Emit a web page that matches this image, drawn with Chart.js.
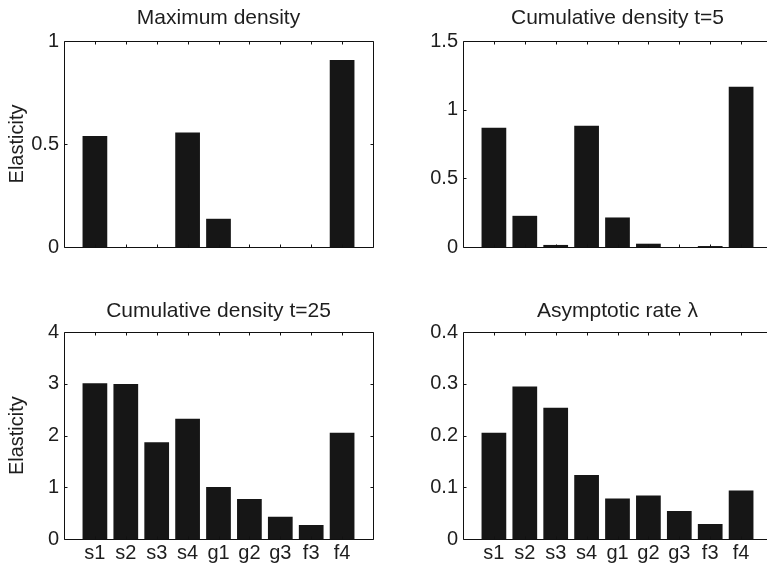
<!DOCTYPE html>
<html>
<head>
<meta charset="utf-8">
<script src="https://cdn.jsdelivr.net/npm/chart.js@4/dist/chart.umd.min.js"></script>
<style>
  html, body { margin: 0; padding: 0; background: #fff; overflow: hidden; }
  body { width: 767px; height: 566px; position: relative; }
  canvas { position: absolute; }
</style>
</head>
<body>
<canvas id="c1" width="384" height="270" style="left:0;top:0"></canvas>
<canvas id="c2" width="400" height="270" style="left:384px;top:0"></canvas>
<canvas id="c3" width="384" height="296" style="left:0;top:270px"></canvas>
<canvas id="c4" width="400" height="296" style="left:384px;top:270px"></canvas>
<script>
// categories (stages)
const categories = ["s1", "s2", "s3", "s4", "g1", "g2", "g3", "f3", "f4"]

// elasticity values per panel
const maxDensity = [0.539, 0, 0, 0.556, 0.137, 0, 0, 0, 0.908]
const cumDensity5 = [0.869, 0.227, 0.015, 0.883, 0.215, 0.024, 0, 0.007, 1.166]
const cumDensity25 = [3.015, 3.0, 1.87, 2.325, 1.005, 0.773, 0.43, 0.27, 2.055]
const asymRate = [0.2055, 0.295, 0.254, 0.124, 0.0786, 0.0844, 0.054, 0.029, 0.094]

// y tick values and labels
const ticks1 = [0, 0.5, 1]
const labels1 = ["0", "0.5", "1"]
const ticks2 = [0, 0.5, 1, 1.5]
const labels2 = ["0", "0.5", "1", "1.5"]
const ticks3 = [0, 1, 2, 3, 4]
const labels3 = ["0", "1", "2", "3", "4"]
const ticks4 = [0, 0.1, 0.2, 0.3, 0.4]
const labels4 = ["0", "0.1", "0.2", "0.3", "0.4"]

const FONT = "'Liberation Sans', Arial, Helvetica, sans-serif"
const TEXT = "#1e1e1e"

// box around the axes + small inward tick marks (matlab look)
const boxTicks = {
  id: "boxTicks",
  afterDatasetsDraw(chart) {
    const ctx = chart.ctx
    const a = chart.chartArea
    const x = chart.scales.x, y = chart.scales.y
    const L = Math.round(a.left) + 0.5, R = Math.round(a.right) + 0.5
    const T = Math.round(a.top) + 0.5, B = Math.round(a.bottom) + 0.5
    ctx.save()
    ctx.strokeStyle = "#111"
    ctx.lineWidth = 1
    ctx.beginPath()
    ctx.rect(L, T, R - L, B - T)
    x.ticks.forEach(t => {
      const px = Math.round(x.getPixelForValue(t.value)) + 0.5
      ctx.moveTo(px, B); ctx.lineTo(px, B - 3)
      ctx.moveTo(px, T); ctx.lineTo(px, T + 3)
    })
    y.ticks.forEach(t => {
      const py = Math.round(y.getPixelForValue(t.value)) + 0.5
      ctx.moveTo(L, py); ctx.lineTo(L + 3, py)
      ctx.moveTo(R, py); ctx.lineTo(R - 3, py)
    })
    ctx.stroke()
    ctx.restore()
  }
}

function makePanel(id, opt) {
  const data = categories.map((c, i) => ({ x: i + 1, y: opt.values[i] }))
  return new Chart(document.getElementById(id), {
    type: "bar",
    data: {
      datasets: [{
        data: data,
        backgroundColor: "#161616",
        borderWidth: 0,
        categoryPercentage: 1,
        barPercentage: 0.8
      }]
    },
    options: {
      responsive: false,
      animation: false,
      devicePixelRatio: 1,
      layout: { padding: { left: 0, top: 0, bottom: 0, right: opt.padRight } },
      plugins: {
        legend: { display: false },
        tooltip: { enabled: false },
        title: {
          display: true,
          fullSize: false,
          text: opt.title,
          color: TEXT,
          font: { family: FONT, size: 21, weight: "normal", lineHeight: 1.2 },
          padding: { top: opt.titleTop, bottom: opt.titleBottom }
        }
      },
      scales: {
        x: {
          type: "linear",
          min: 0,
          max: 10,
          offset: false,
          grid: { display: false, drawTicks: false, offset: false },
          border: { display: false },
          afterBuildTicks: s => { s.ticks = categories.map((c, i) => ({ value: i + 1 })) },
          afterFit: s => { s.height = opt.xHeight },
          ticks: {
            autoSkip: false,
            maxRotation: 0,
            padding: 2,
            color: TEXT,
            font: { family: FONT, size: 20 },
            callback: (v, i) => opt.showX ? categories[i] : ""
          }
        },
        y: {
          min: opt.ticks[0],
          max: opt.ticks[opt.ticks.length - 1],
          grid: { display: false, drawTicks: false },
          border: { display: false },
          afterBuildTicks: s => { s.ticks = opt.ticks.map(v => ({ value: v })) },
          afterFit: s => { s.width = opt.yWidth },
          ticks: {
            padding: 5,
            color: TEXT,
            font: { family: FONT, size: 20 },
            callback: (v, i) => opt.labels[i]
          },
          title: {
            display: opt.yTitle,
            text: "Elasticity",
            color: TEXT,
            font: { family: FONT, size: 20 },
            padding: { top: 5, bottom: 0 }
          }
        }
      }
    },
    plugins: [boxTicks]
  })
}

makePanel("c1", { title: "Maximum density", values: maxDensity, ticks: ticks1, labels: labels1,
  yWidth: 64, padRight: 11, titleTop: 5.5, titleBottom: 10.3, xHeight: 23, showX: false, yTitle: true })
makePanel("c2", { title: "Cumulative density t=5", values: cumDensity5, ticks: ticks2, labels: labels2,
  yWidth: 79, padRight: 12, titleTop: 5.5, titleBottom: 10.3, xHeight: 23, showX: false, yTitle: false })
makePanel("c3", { title: "Cumulative density t=25", values: cumDensity25, ticks: ticks3, labels: labels3,
  yWidth: 64, padRight: 11, titleTop: 29, titleBottom: 8.1, xHeight: 27, showX: true, yTitle: true })
makePanel("c4", { title: "Asymptotic rate λ", values: asymRate, ticks: ticks4, labels: labels4,
  yWidth: 79, padRight: 12, titleTop: 29, titleBottom: 8.1, xHeight: 27, showX: true, yTitle: false })
</script>
</body>
</html>
